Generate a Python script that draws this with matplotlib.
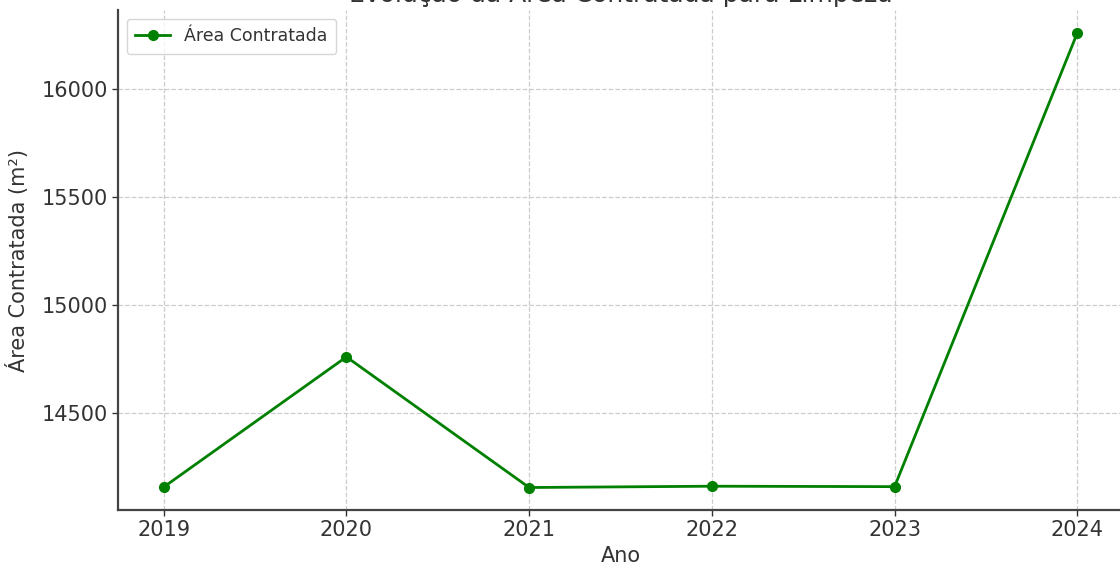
import matplotlib
matplotlib.use('Agg')
import matplotlib.pyplot as plt

anos = [2019, 2020, 2021, 2022, 2023, 2024]
area = [14158, 14760, 14156, 14162, 14160, 16258]
yticks = [14500, 15000, 15500, 16000]

TXT = '#333333'
plt.rcParams['font.family'] = 'DejaVu Sans'

fig = plt.figure(figsize=(11.2, 5.65), dpi=100)
ax = fig.add_axes([118 / 1120, 55 / 565, 1005 / 1120, 500 / 565])

ax.plot(anos, area, color='green', marker='o', markersize=7, lw=2, label='Área Contratada')
ax.set_xlim(2018.75, 2024.25)
ax.set_ylim(14052, 16364)
ax.set_xticks(anos)
ax.set_yticks(yticks)

ax.grid(True, ls='--', color='#cccccc', lw=0.9)
ax.set_axisbelow(True)
for s in ['top', 'right']:
    ax.spines[s].set_visible(False)
for s in ['left', 'bottom']:
    ax.spines[s].set_color('#444444')
    ax.spines[s].set_linewidth(1.6)
ax.tick_params(colors=TXT, labelsize=15, length=4, width=1, labelcolor=TXT)

ax.set_xlabel('Ano', fontsize=15, color=TXT, labelpad=4)
ax.set_ylabel('Área Contratada (m²)', fontsize=15, color=TXT, labelpad=9)
# o título fica cortado no topo, como na figura original
ax.set_title('Evolução da Área Contratada para Limpeza', fontsize=18, color=TXT, pad=6)

leg = ax.legend(loc='upper left', fontsize=12.5, frameon=True, fancybox=True,
                edgecolor='#cccccc', borderpad=0.5)
for t in leg.get_texts():
    t.set_color(TXT)

fig.savefig('out.png', dpi=100)
